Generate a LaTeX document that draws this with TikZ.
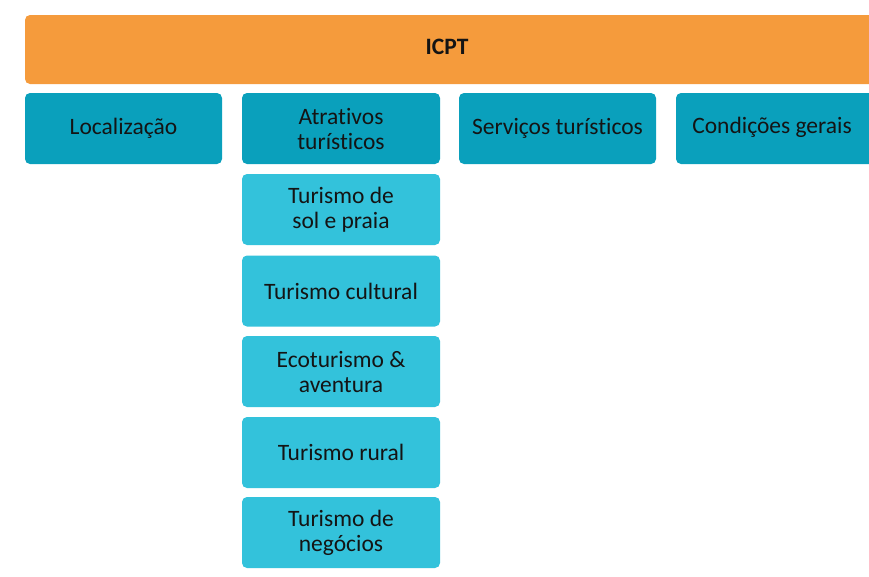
\documentclass[tikz,border=0pt]{standalone}
\usepackage{fontspec}
\setmainfont[Ligatures=NoCommon]{Carlito}
\definecolor{orangebar}{HTML}{F59B3C}
\definecolor{tealdark}{HTML}{0AA0BC}
\definecolor{teallight}{HTML}{33C2DB}
\definecolor{txt}{HTML}{141414}
\begin{document}
\begin{tikzpicture}[x=1pt,y=-1pt,
  lbl/.style={text=txt, align=center, inner sep=0pt, font=\fontsize{23.5}{25}\selectfont},
  box/.style={lbl, rounded corners=5pt},
  topbox/.style={box, fill=tealdark, minimum width=197pt, minimum height=71pt},
  subbox/.style={box, fill=teallight, minimum width=198pt, minimum height=71pt}]
\useasboundingbox (0,0) rectangle (869,576);
\clip (0,0) rectangle (869,576);
\node[box, fill=orangebar, minimum width=860pt, minimum height=69pt] (icpt) at (455,49.5) {};
\node[lbl, font=\fontsize{23.5}{25}\selectfont\bfseries] (icptlabel) at (447,47) {ICPT};
\node[topbox] (loc) at (123.5,128.5) {Localização};
\node[topbox, minimum width=198pt] (atr) at (341,128.5) {Atrativos\\turísticos};
\node[topbox] (serv) at (557.5,128.5) {Serviços turísticos};
\node[topbox, minimum width=220pt] (cond) at (786,128.5) {};
\node[lbl] (condlabel) at (772,127) {Condições gerais};
\node[subbox] (s1) at (341,209.5) {Turismo de\\sol e praia};
\node[subbox] (s2) at (341,291) {Turismo cultural};
\node[subbox] (s3) at (341,371.5) {Ecoturismo \&\\aventura};
\node[subbox] (s4) at (341,452.5) {Turismo rural};
\node[subbox] (s5) at (341,532.5) {Turismo de\\negócios};
\end{tikzpicture}
\end{document}
